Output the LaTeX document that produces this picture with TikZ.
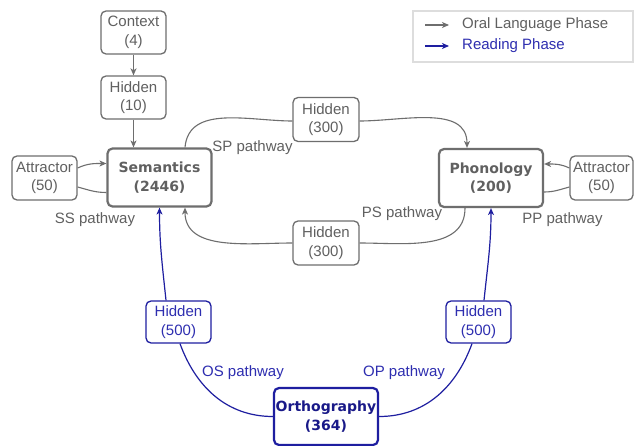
\documentclass[tikz,border=0pt]{standalone}
\usepackage{fontspec}
\setmainfont{Liberation Sans}
\newfontfamily\boldfam{DejaVu Sans}
\usetikzlibrary{arrows.meta}
\definecolor{gline}{HTML}{6E6E6E}
\definecolor{gtext}{HTML}{606060}
\definecolor{bline}{HTML}{1E1EA0}
\definecolor{btext}{HTML}{2E2EB0}
\definecolor{legbox}{HTML}{DDDDDD}
\tikzset{
  box/.style={draw=gline, rounded corners=5pt, line width=1.3pt, text=gtext, align=center,
    inner sep=0pt, minimum width=65pt, minimum height=43pt, font=\fontsize{15}{18.5}\selectfont},
  bigbox/.style={box, line width=2.2pt, minimum width=104pt, minimum height=58pt,
    font=\boldfam\bfseries\fontsize{14}{18.5}\selectfont},
  bluebox/.style={box, draw=bline, text=btext},
  bigblue/.style={bigbox, draw=bline, text=bline!85!black},
  gconn/.style={draw=gline, line width=1.1pt},
  bconn/.style={draw=bline, line width=1.2pt},
  tip/.style={-{Stealth[length=7pt,width=6pt,inset=2pt]}},
  lab/.style={font=\fontsize{15}{18}\selectfont, text=gtext, inner sep=0pt},
  blab/.style={lab, text=btext},
}
\begin{document}
\begin{tikzpicture}[x=1pt,y=-1pt]
\useasboundingbox (0,0) rectangle (634,446);
\fill[white] (0,0) rectangle (634,446);

% legend
\node[draw=legbox, line width=1.2pt, minimum width=220pt, minimum height=51pt, inner sep=0pt] (legend) at (523,36.5) {};
\coordinate (lg1) at (425,25);
\coordinate (lg2) at (449,25);
\coordinate (lb1) at (425,46);
\coordinate (lb2) at (449,46);
\draw[gconn, tip] (lg1) -- (lg2);
\draw[bconn, line width=1.6pt, tip] (lb1) -- (lb2);
\node[lab, anchor=west] (legoral) at (462,25) {Oral Language Phase};
\node[blab, anchor=west] (legread) at (462,46) {Reading Phase};

% nodes
\node[box] (ctx) at (133.5,32.5) {Context\\(4)};
\node[box] (h10) at (133.5,97.5) {Hidden\\(10)};
\node[bigbox] (sem) at (159.5,177.5) {Semantics\\(2446)};
\node[box, minimum height=44pt] (attL) at (44.5,178) {Attractor\\(50)};
\node[box, minimum width=66pt, minimum height=44pt] (hSP) at (326,119.5) {Hidden\\(300)};
\node[box, minimum width=66pt, minimum height=44pt] (hPS) at (326,243) {Hidden\\(300)};
\node[bigbox] (pho) at (491,178) {Phonology\\(200)};
\node[box, minimum width=63pt, minimum height=44pt] (attR) at (601.5,178) {Attractor\\(50)};
\node[bluebox, minimum height=42pt] (hOS) at (178.5,322) {Hidden\\(500)};
\node[bluebox, minimum height=42pt] (hOP) at (478.5,322) {Hidden\\(500)};
\node[bigblue, minimum width=104pt, minimum height=57pt] (orth) at (326,416.5) {Orthography\\(364)};

% oral connectors
\draw[gconn, tip] (ctx) -- (h10);
\draw[gconn, tip] (h10.south) -- (h10.south |- sem.north);
\draw[gconn, tip] ([yshift=10pt]attL.east) to[out=25,in=180] ([yshift=14pt]sem.west);
\draw[gconn] ([yshift=-15pt]sem.west) to[out=180,in=-15] ([yshift=-9pt]attL.east);
\draw[gconn, tip] ([yshift=10pt]attR.west) to[out=155,in=0] ([yshift=14pt]pho.east);
\draw[gconn] ([yshift=-14pt]pho.east) to[out=0,in=195] ([yshift=-9pt]attR.west);
\draw[gconn] ([xshift=25.5pt]sem.north) to[out=85,in=180] ([yshift=-1.5pt]hSP.west);
\draw[gconn, tip] ([yshift=-1.5pt]hSP.east) to[out=0,in=90] ([xshift=-24pt]pho.north);
\draw[gconn] ([xshift=-26pt]pho.south) to[out=-90,in=0] (hPS.east);
\draw[gconn, tip] (hPS.west) to[out=180,in=-90] ([xshift=25.5pt]sem.south);

% reading connectors
\draw[bconn] (orth.west) to[out=180,in=-70] ([xshift=1.5pt]hOS.south);
\draw[bconn, tip] ([xshift=-12.5pt]hOS.north) to[out=96,in=-90] (sem.south);
\draw[bconn] (orth.east) to[out=0,in=-110] ([xshift=-6.5pt]hOP.south);
\draw[bconn, tip] ([xshift=5.5pt]hOP.north) to[out=84,in=-90] (pho.south);

% labels
\node[lab] (lSS) at (95,220) {SS pathway};
\node[lab] (lSP) at (252.5,148) {SP pathway};
\node[lab] (lPS) at (402,214) {PS pathway};
\node[lab] (lPP) at (562.5,220) {PP pathway};
\node[blab] (lOS) at (243,373) {OS pathway};
\node[blab] (lOP) at (404,373) {OP pathway};
\end{tikzpicture}
\end{document}
